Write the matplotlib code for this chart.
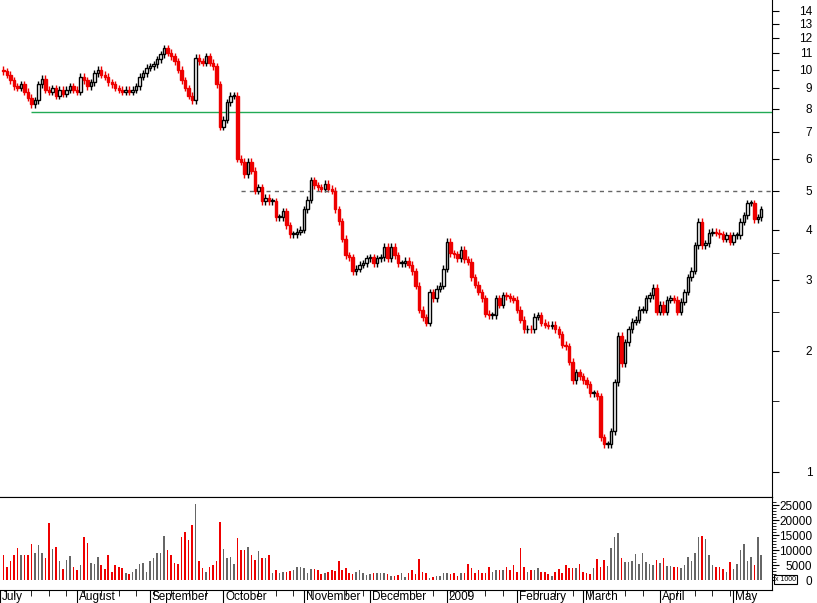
import numpy as np
import matplotlib
matplotlib.use("Agg")
import matplotlib.pyplot as plt
from matplotlib.transforms import blended_transform_factory

plt.rcParams['font.family'] = ['Liberation Sans', 'DejaVu Sans']

closes = [
 9.9,9.7,9.4,9.1,9.0,9.2,8.8,8.5,8.2,8.4,9.2,9.5,8.9,8.8,9.0,8.6,8.9,8.7,8.9,9.1,8.9,
 8.8,9.6,9.4,9.1,9.3,9.8,10.0,9.7,9.6,9.3,9.2,9.0,8.9,8.8,8.9,8.8,8.9,9.1,9.6,9.8,10.1,
 10.2,10.3,10.6,10.9,11.3,11.0,10.8,10.5,10.0,9.4,9.0,8.6,8.4,10.7,10.5,10.4,10.8,10.4,10.2,9.2,7.2,
 7.5,8.3,8.6,8.6,6.0,5.9,5.5,5.9,5.6,5.0,5.1,4.7,4.8,4.7,4.7,4.3,4.3,4.45,4.1,3.9,3.9,3.95,4.0,
 4.5,4.75,5.3,5.15,5.1,5.05,5.2,5.05,5.0,4.5,4.2,3.8,3.45,3.42,3.15,3.2,3.27,3.3,3.4,
 3.42,3.3,3.4,3.42,3.63,3.4,3.63,3.46,3.3,3.3,3.35,3.27,3.15,2.9,2.53,2.42,2.35,2.8,2.7,2.85,2.9,3.2,
 3.73,3.5,3.47,3.4,3.57,3.38,3.33,3.05,2.92,2.8,2.7,2.47,2.45,2.45,2.7,2.6,2.75,2.73,2.7,2.68,
 2.53,2.39,2.26,2.27,2.26,2.43,2.45,2.35,2.32,2.31,2.32,2.26,2.2,2.07,2.05,1.88,1.69,1.77,1.73,
 1.69,1.65,1.57,1.57,1.54,1.22,1.17,1.17,1.26,1.67,2.18,1.86,2.1,2.26,2.36,2.39,2.53,2.53,2.7,2.75,2.87,2.5,
 2.6,2.5,2.68,2.7,2.68,2.5,2.65,2.8,3.05,3.16,3.66,4.18,3.66,3.7,3.93,3.95,3.93,3.9,3.8,3.87,3.73,
 3.87,3.87,4.18,4.35,4.66,4.66,4.25,4.3,4.5,
]
first_open = 10.0
volumes = [
 8500,4200,6200,8200,10800,8200,8200,8200,11900,9100,11600,8900,7400,19100,10200,11000,6200,3600,6800,8000,4500,
 3400,5100,14400,12500,5700,5500,7600,4900,3700,8300,2800,5100,4200,4000,2500,1900,2800,3700,5300,5700,2800,
 6200,7400,8900,8900,14800,10000,8500,5700,5300,14200,15900,13400,18500,25500,6200,4000,2800,4200,5000,6200,19500,
 10200,7400,7600,5300,14000,10000,10000,11000,8200,6800,9700,7400,7400,8200,2500,3200,2500,2600,2600,3100,3400,4300,4500,
 4000,2500,3700,3600,3400,2000,2500,2800,3200,3100,6200,3200,4000,2300,1900,2600,3200,2300,1700,
 1900,2300,2500,2200,2500,2000,1500,1500,1700,2500,1100,2500,3200,2000,7000,2800,2500,800,1100,1500,1500,2300,
 2500,2000,2500,1500,2300,2500,5300,4000,2500,3200,2500,2500,4300,2800,3200,3400,3200,4200,3200,5100,
 2800,10600,4200,2800,3200,3200,4000,2800,2600,1900,1500,2800,3600,2300,4900,4000,4000,4000,5500,
 2800,2500,1900,4000,7000,4500,6600,4800,10600,14200,15600,7200,6000,6000,6200,8700,5500,9100,5900,5500,5100,6600,
 5700,7200,4800,4800,4200,4200,4000,4900,7600,6200,9100,14200,14800,13600,8200,4900,4300,4500,3600,2800,5900,
 3600,5500,10000,11900,6200,7600,5100,14500,8500,
]
month_idx = [-1, 21, 42, 63, 86, 105, 127, 147, 166, 188, 209]
month_lbl = ['July', 'August', 'September', 'October', 'November', 'December',
             '2009', 'February', 'March', 'April', 'May']
support_level = 7.86
resist_level = 5.0

n = len(closes)
opens = [first_open] + closes[:-1]
x = np.arange(n)
RED = '#ee0000'
GRAY = '#666666'

fig = plt.figure(figsize=(8.17, 6.03), dpi=100)
W, H = 817, 603
axp = fig.add_axes([0, 106 / H, 772 / W, 497 / H])
axv = fig.add_axes([0, 13 / H, 772 / W, 93 / H], sharex=axp)

xmax = 772 / 3.5 - 0.5
axp.set_xlim(-0.5, xmax)
axp.set_yscale('log')
axp.set_ylim(0.866, 14.89)

for i in range(n):
    o, c = opens[i], closes[i]
    hi, lo = max(o, c) * 1.02, min(o, c) * 0.98
    up = c >= o
    col = 'black' if up else RED
    axp.vlines(i, lo, hi, color=col, lw=1)
    b0, b1 = min(o, c), max(o, c)
    if b1 / b0 < 1.004:
        b1 = b0 * 1.006
    axp.bar(i, b1 - b0, bottom=b0, width=0.7, facecolor='white' if up else RED,
            edgecolor=col, linewidth=1, zorder=3)

axp.hlines(support_level, 8, xmax, color='#22aa55', lw=1)
axp.hlines(resist_level, 68, xmax, color='#666666', lw=1, linestyles=(0, (3, 3)))

for a in (axp, axv):
    a.spines['left'].set_visible(False)
    a.yaxis.tick_right()
    a.tick_params(axis='y', direction='out', labelsize=8.5, length=5, pad=24)
axp.spines['top'].set_visible(False)

axp.set_yticks(list(range(1, 15)))
axp.set_yticklabels([str(v) for v in range(1, 15)])
axp.set_yticks([1.5, 2.5, 3.5], minor=True)
axp.yaxis.set_minor_formatter(plt.NullFormatter())
axp.tick_params(axis='y', which='minor', length=5, direction='out')
axp.tick_params(axis='x', bottom=False, labelbottom=False)

vcol = [GRAY if closes[i] >= opens[i] else RED for i in range(n)]
axv.bar(x, volumes, width=0.45, color=vcol)
axv.set_ylim(-3333, 27667)
axv.set_yticks([0, 5000, 10000, 15000, 20000, 25000])
axv.set_yticks(np.arange(0, 27000, 1000), minor=True)
axv.tick_params(axis='y', which='minor', length=3)
axv.set_xticks(month_idx)
axv.set_xticklabels([])
axv.set_xticks(np.arange(3, n, 5), minor=True)
axv.tick_params(axis='x', which='major', length=13, direction='out')
axv.tick_params(axis='x', which='minor', length=4, direction='out')
for a in (axp, axv):
    for lab in a.get_yticklabels():
        lab.set_horizontalalignment('right')
tr = blended_transform_factory(axv.transData, axv.transAxes)
for mi, ml in zip(month_idx, month_lbl):
    axv.text(mi + 0.5, -0.075, ml, transform=tr, ha='left', va='center', fontsize=8.5)
axv.text(1.004, 0.11, 'x 1000', transform=axv.transAxes, fontsize=5, va='center',
         ha='left', bbox=dict(facecolor='white', edgecolor='black', pad=0.6, lw=0.8))

fig.savefig('out.png', dpi=100)
